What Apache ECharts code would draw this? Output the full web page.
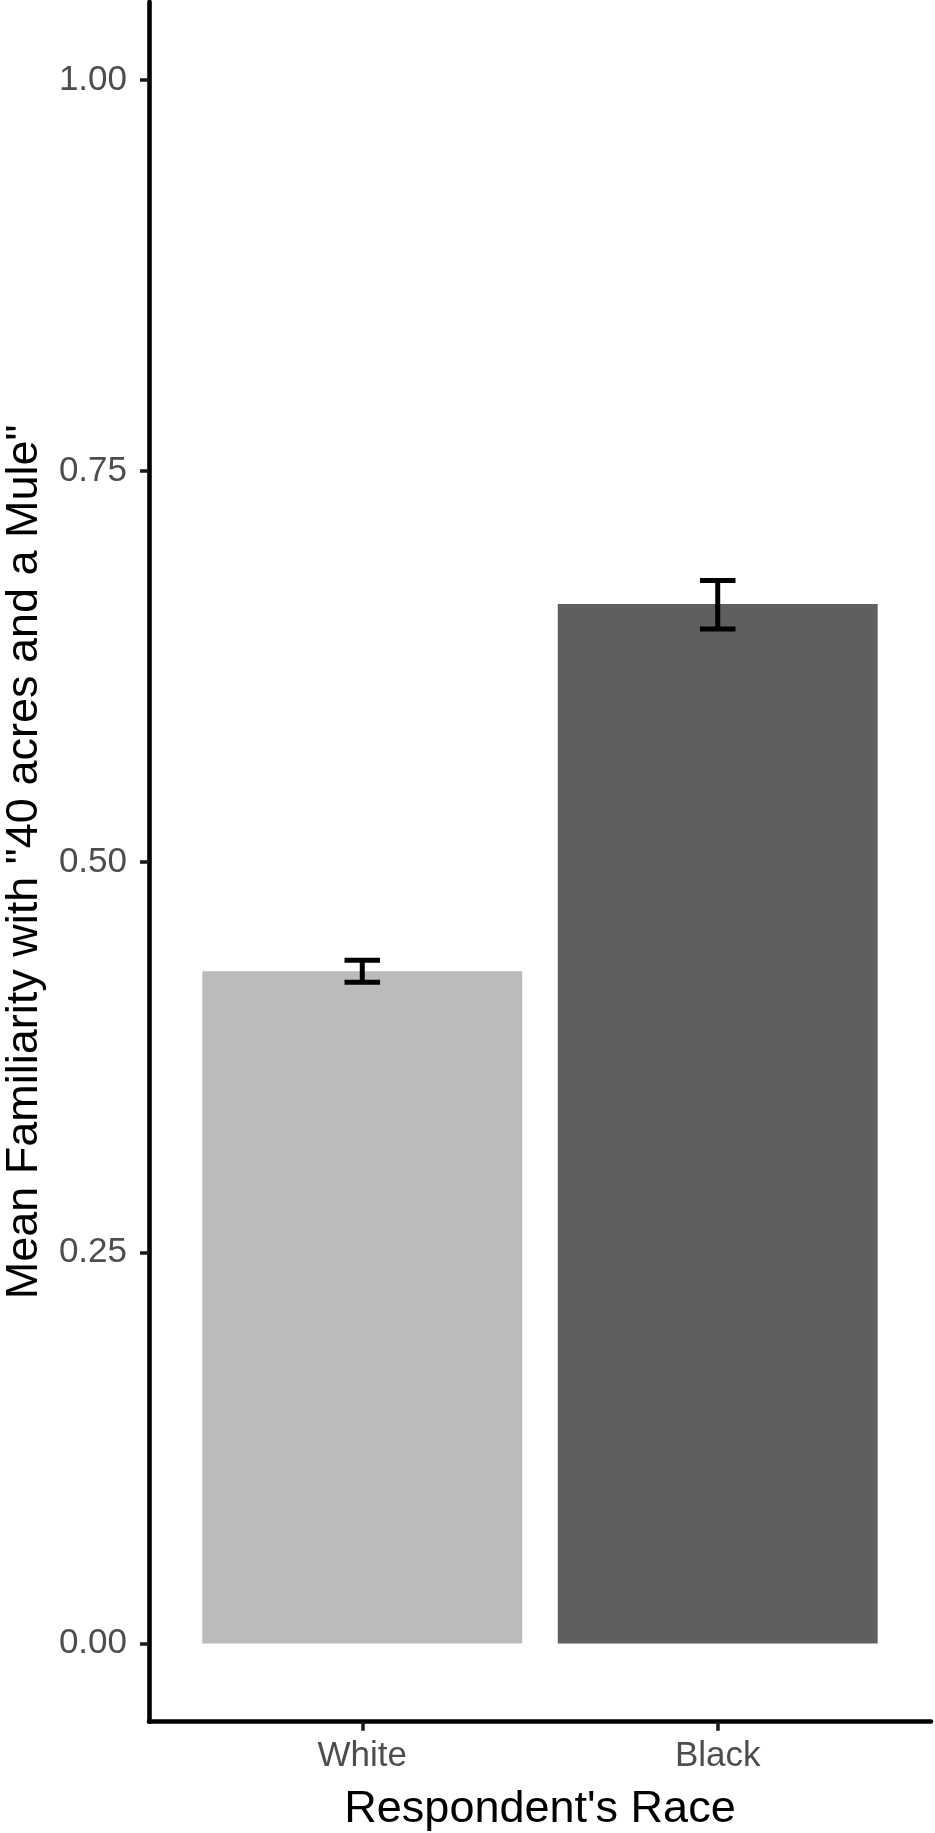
<!DOCTYPE html>
<html>
<head>
<meta charset="utf-8">
<script src="https://cdn.jsdelivr.net/npm/echarts@6/dist/echarts.min.js"></script>
<style>
  html, body { margin: 0; padding: 0; background: #ffffff; }
  #chart { width: 935px; height: 1833px; }
</style>
</head>
<body>
<div id="chart"></div>
<script>
// ---- data ----
const categories = ['White', 'Black'];
const means = [0.430, 0.665];
const lowerCI = [0.423, 0.649];
const upperCI = [0.437, 0.680];
const yTicks = [0, 0.25, 0.5, 0.75, 1.0];
const xTitle = "Respondent's Race";
const yTitle = 'Mean Familiarity with "40 acres and a Mule"';

const barColors = ['#bbbbbb', '#5f5f5f'];
const FONT = '"Liberation Sans", Arial, Helvetica, sans-serif';

const xPos = categories.map((c, i) => i + 1);
const barData = xPos.map((x, i) => [x, means[i]]);
const errData = xPos.map((x, i) => [x, lowerCI[i], upperCI[i]]);

const chart = echarts.init(document.getElementById('chart'), null, { renderer: 'canvas' });

chart.setOption({
  animation: false,
  backgroundColor: '#ffffff',
  grid: { left: 149, right: 4, top: 2, bottom: 111.3, containLabel: false, outerBoundsMode: 'none' },
  xAxis: {
    type: 'value',
    min: 0.4,
    max: 2.6,
    name: xTitle,
    nameLocation: 'middle',
    nameGap: 65,
    nameTextStyle: { fontFamily: FONT, fontSize: 45, color: '#000000' },
    axisLine: { show: true, onZero: false, lineStyle: { color: '#000000', width: 4.6 } },
    axisTick: { show: true, customValues: xPos, length: 9, lineStyle: { color: '#1a1a1a', width: 3.5 } },
    axisLabel: {
      show: true,
      customValues: xPos,
      formatter: v => categories[Math.round(v) - 1] || '',
      margin: 17,
      fontFamily: FONT, fontSize: 35, color: '#4d4d4d'
    },
    splitLine: { show: false }
  },
  yAxis: {
    type: 'value',
    min: -0.05,
    max: 1.05,
    name: yTitle,
    nameLocation: 'middle',
    nameGap: 102,
    nameTextStyle: { fontFamily: FONT, fontSize: 45, color: '#000000' },
    axisLine: { show: true, onZero: false, lineStyle: { color: '#000000', width: 4.6 } },
    axisTick: { show: true, customValues: yTicks, length: 9, lineStyle: { color: '#1a1a1a', width: 3.5 } },
    axisLabel: {
      show: true,
      customValues: yTicks,
      formatter: v => v.toFixed(2),
      margin: 22,
      fontFamily: FONT, fontSize: 35, color: '#4d4d4d'
    },
    splitLine: { show: false }
  },
  series: [
    {
      type: 'custom',
      name: 'mean',
      data: barData,
      encode: { x: 0, y: 1 },
      z: 2,
      renderItem: function (params, api) {
        const x = api.value(0);
        const v = api.value(1);
        const tl = api.coord([x - 0.45, v]);
        const br = api.coord([x + 0.45, 0]);
        return {
          type: 'rect',
          shape: { x: tl[0], y: tl[1], width: br[0] - tl[0], height: br[1] - tl[1] },
          style: { fill: barColors[params.dataIndex] }
        };
      }
    },
    {
      type: 'custom',
      name: 'ci',
      data: errData,
      encode: { x: 0, y: [1, 2] },
      z: 3,
      renderItem: function (params, api) {
        const x = api.value(0);
        const lo = api.value(1);
        const hi = api.value(2);
        const pHi = api.coord([x, hi]);
        const pLo = api.coord([x, lo]);
        const half = api.size([0.05, 0])[0];
        const st = { stroke: '#000000', lineWidth: 5, fill: null, lineCap: 'butt' };
        return {
          type: 'group',
          children: [
            { type: 'line', shape: { x1: pHi[0], y1: pHi[1], x2: pLo[0], y2: pLo[1] }, style: st },
            { type: 'line', shape: { x1: pHi[0] - half, y1: pHi[1], x2: pHi[0] + half, y2: pHi[1] }, style: st },
            { type: 'line', shape: { x1: pLo[0] - half, y1: pLo[1], x2: pLo[0] + half, y2: pLo[1] }, style: st }
          ]
        };
      }
    }
  ]
});
</script>
</body>
</html>
